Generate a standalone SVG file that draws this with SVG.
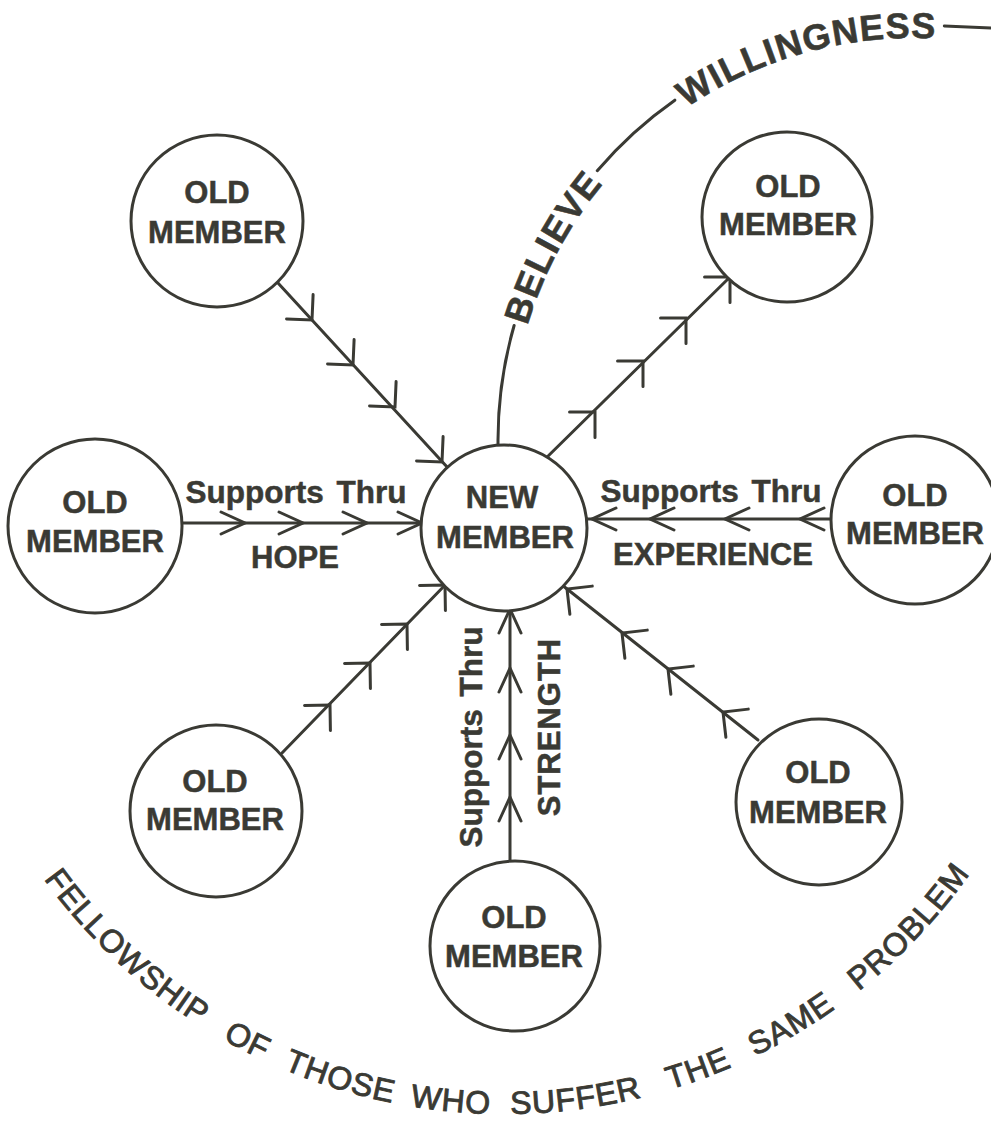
<svg xmlns="http://www.w3.org/2000/svg" xmlns:xlink="http://www.w3.org/1999/xlink" width="991" height="1123" viewBox="0 0 991 1123">
<style>
.node{fill:#fff;stroke:#3a3a34;stroke-width:3}
.lbl{font-family:"Liberation Sans",Arial,sans-serif;font-weight:bold;font-size:31px;fill:#3a3a34;stroke:#3a3a34;stroke-width:0.5;text-anchor:middle}
.sup{font-size:31.5px;word-spacing:4px}
.edge{fill:none;stroke:#3a3a34;stroke-width:3;stroke-linecap:round}
.chev{fill:none;stroke:#3a3a34;stroke-width:3;stroke-linecap:round;stroke-linejoin:miter}
.arc{font-family:"Liberation Sans",Arial,sans-serif;font-weight:bold;font-size:36px;fill:#3a3a34;stroke:#3a3a34;stroke-width:0.6;letter-spacing:2px;dominant-baseline:central}
.bot{font-family:"Liberation Sans",Arial,sans-serif;font-size:32px;fill:#3a3a34;stroke:#3a3a34;stroke-width:0.9;letter-spacing:0.5px;dominant-baseline:central}
</style>
<defs>
<path id="cw" class="chev" d="M -18 -18 L 0 0 L -18 18"/>
<path id="cn" class="chev" d="M -24 -11 L 0 0 L -24 11"/>
<path id="arcTop" d="M 498 452 L 498 440 A 415 415 0 0 1 927.5 25.3 L 991 28"/>
<path id="arcBot" d="M 20.9 823.5 A 559 559 0 0 0 989.1 823.5"/>
</defs>
<rect width="991" height="1123" fill="#fff"/>

<g id="connectors">
  <path class="edge" d="M 278 283 L 448 468"/>
  <use xlink:href="#cw" transform="translate(312,320) rotate(47.5)"/>
  <use xlink:href="#cw" transform="translate(353,365) rotate(47.5)"/>
  <use xlink:href="#cw" transform="translate(395,407) rotate(47.5)"/>
  <use xlink:href="#cw" transform="translate(442,462) rotate(47.5)"/>

  <path class="edge" d="M 540 464 L 730 277"/>
  <use xlink:href="#cw" transform="translate(595,412) rotate(-45)"/>
  <use xlink:href="#cw" transform="translate(643,361) rotate(-45)"/>
  <use xlink:href="#cw" transform="translate(686,318) rotate(-45)"/>
  <use xlink:href="#cw" transform="translate(730,277) rotate(-45)"/>

  <path class="edge" d="M 182 523 L 425 523"/>
  <use xlink:href="#cn" transform="translate(245,523)"/>
  <use xlink:href="#cn" transform="translate(303,523)"/>
  <use xlink:href="#cn" transform="translate(367,523)"/>
  <use xlink:href="#cn" transform="translate(422,523)"/>

  <path class="edge" d="M 833 519 L 585 519"/>
  <use xlink:href="#cn" transform="translate(592,519) rotate(180)"/>
  <use xlink:href="#cn" transform="translate(650,519) rotate(180)"/>
  <use xlink:href="#cn" transform="translate(725,519) rotate(180)"/>
  <use xlink:href="#cn" transform="translate(800,519) rotate(180)"/>

  <path class="edge" d="M 282 753 L 449 581"/>
  <use xlink:href="#cw" transform="translate(330,705) rotate(-45.9)"/>
  <use xlink:href="#cw" transform="translate(370,663) rotate(-45.9)"/>
  <use xlink:href="#cw" transform="translate(407,624) rotate(-45.9)"/>
  <use xlink:href="#cw" transform="translate(445,585) rotate(-45.9)"/>

  <path class="edge" d="M 510 862 L 510 605"/>
  <use xlink:href="#cn" transform="translate(510,609) rotate(-90)"/>
  <use xlink:href="#cn" transform="translate(510,668) rotate(-90)"/>
  <use xlink:href="#cn" transform="translate(510,735) rotate(-90)"/>
  <use xlink:href="#cn" transform="translate(510,797) rotate(-90)"/>

  <path class="edge" d="M 758 740 L 562 585"/>
  <use xlink:href="#cw" transform="translate(723,712) rotate(-141.5)"/>
  <use xlink:href="#cw" transform="translate(668,669) rotate(-141.5)"/>
  <use xlink:href="#cw" transform="translate(622,633) rotate(-141.5)"/>
  <use xlink:href="#cw" transform="translate(567,589) rotate(-141.5)"/>

  <use xlink:href="#arcTop" class="edge" stroke-dasharray="128 177 105 285 200"/>
</g>

<g id="edge-labels">
  <text class="lbl sup" x="296" y="503">Supports Thru</text>
  <text class="lbl" x="295" y="568">HOPE</text>
  <text class="lbl sup" x="711" y="502">Supports Thru</text>
  <text class="lbl" x="713" y="565">EXPERIENCE</text>
  <text class="lbl sup" transform="translate(482,737) rotate(-90)">Supports Thru</text>
  <text class="lbl" transform="translate(560,727) rotate(-90)" letter-spacing="1">STRENGTH</text>
  <text class="arc"><textPath xlink:href="#arcTop" startOffset="216" text-anchor="middle">BELIEVE</textPath></text>
  <text class="arc"><textPath xlink:href="#arcTop" startOffset="552" text-anchor="middle">WILLINGNESS</textPath></text>
</g>

<g id="fellowship-text">
  <text class="bot"><textPath xlink:href="#arcBot" startOffset="164" text-anchor="middle">FELLOWSHIP</textPath></text>
  <text class="bot"><textPath xlink:href="#arcBot" startOffset="318" text-anchor="middle">OF</textPath></text>
  <text class="bot"><textPath xlink:href="#arcBot" startOffset="418" text-anchor="middle">THOSE</textPath></text>
  <text class="bot"><textPath xlink:href="#arcBot" startOffset="531" text-anchor="middle">WHO</textPath></text>
  <text class="bot"><textPath xlink:href="#arcBot" startOffset="656" text-anchor="middle">SUFFER</textPath></text>
  <text class="bot"><textPath xlink:href="#arcBot" startOffset="782" text-anchor="middle">THE</textPath></text>
  <text class="bot"><textPath xlink:href="#arcBot" startOffset="885" text-anchor="middle">SAME</textPath></text>
  <text class="bot"><textPath xlink:href="#arcBot" startOffset="1039" text-anchor="middle">PROBLEM</textPath></text>
</g>

<g id="node-new">
  <circle class="node" cx="504" cy="528" r="83"/>
  <text class="lbl" x="502" y="508">NEW</text>
  <text class="lbl" x="505" y="548">MEMBER</text>
</g>
<g id="node-top-left">
  <circle class="node" cx="217" cy="221" r="86"/>
  <text class="lbl" x="217" y="203">OLD</text>
  <text class="lbl" x="217" y="243">MEMBER</text>
</g>
<g id="node-top-right">
  <circle class="node" cx="787" cy="217" r="85"/>
  <text class="lbl" x="788" y="197">OLD</text>
  <text class="lbl" x="788" y="235">MEMBER</text>
</g>
<g id="node-left">
  <circle class="node" cx="95" cy="526" r="87"/>
  <text class="lbl" x="95" y="513">OLD</text>
  <text class="lbl" x="95" y="552">MEMBER</text>
</g>
<g id="node-right">
  <circle class="node" cx="915" cy="520" r="84"/>
  <text class="lbl" x="915" y="506">OLD</text>
  <text class="lbl" x="915" y="544">MEMBER</text>
</g>
<g id="node-bottom-left">
  <circle class="node" cx="216" cy="811" r="86"/>
  <text class="lbl" x="215" y="792">OLD</text>
  <text class="lbl" x="215" y="830">MEMBER</text>
</g>
<g id="node-bottom">
  <circle class="node" cx="515" cy="946" r="85"/>
  <text class="lbl" x="514" y="928">OLD</text>
  <text class="lbl" x="514" y="967">MEMBER</text>
</g>
<g id="node-bottom-right">
  <circle class="node" cx="819" cy="802" r="83"/>
  <text class="lbl" x="818" y="783">OLD</text>
  <text class="lbl" x="818" y="823">MEMBER</text>
</g>
</svg>
